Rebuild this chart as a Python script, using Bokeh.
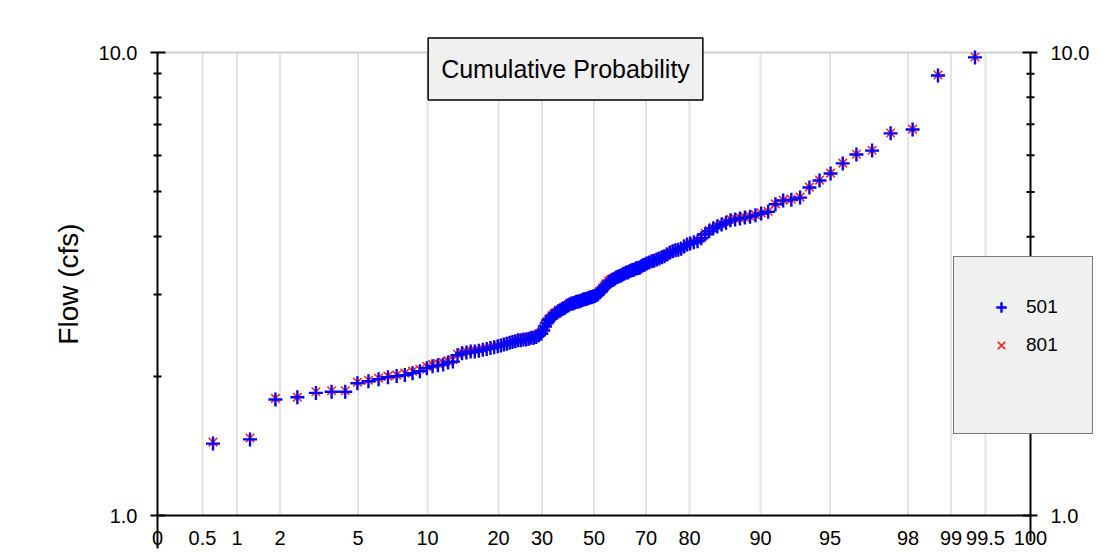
from statistics import NormalDist

import numpy as np
from bokeh.core.properties import value
from bokeh.embed import file_html
from bokeh.models import (ColumnDataSource, FixedTicker, Label, Legend, LegendItem,
                          PrintfTickFormatter, Range1d)
from bokeh.plotting import figure
from bokeh.resources import INLINE

# ---------------- data ----------------
# Probability-axis tick values and their labels
PROB_TICKS = [0, 0.5, 1, 2, 5, 10, 20, 30, 50, 70, 80, 90, 95, 98, 99, 99.5, 100]
PROB_LABELS = ["0", "0.5", "1", "2", "5", "10", "20", "30", "50", "70", "80", "90",
               "95", "98", "99", "99.5", "100"]

# Flow axis ticks
Y_MAJOR = [1, 10]
Y_MINOR = [2, 3, 4, 5, 6, 7, 8, 9]

# Flow (cfs), ranked ascending, series 501
FLOW_501 = [
    1.43, 1.46, 1.78, 1.80, 1.84, 1.85, 1.85, 1.93, 1.95, 1.97,
    1.99, 2.00, 2.01, 2.03, 2.05, 2.08, 2.10, 2.11, 2.12, 2.14,
    2.15, 2.22, 2.24, 2.25, 2.26, 2.26, 2.27, 2.28, 2.29, 2.30,
    2.31, 2.32, 2.33, 2.34, 2.35, 2.36, 2.37, 2.38, 2.39, 2.39,
    2.40, 2.40, 2.41, 2.42, 2.42, 2.43, 2.45, 2.47, 2.51, 2.56,
    2.60, 2.64, 2.66, 2.69, 2.70, 2.73, 2.74, 2.76, 2.77, 2.79,
    2.80, 2.81, 2.83, 2.84, 2.86, 2.87, 2.87, 2.88, 2.89, 2.90,
    2.90, 2.91, 2.92, 2.93, 2.93, 2.94, 2.95, 2.96, 2.96, 2.97,
    2.98, 2.99, 3.00, 3.03, 3.05, 3.08, 3.11, 3.14, 3.15, 3.19,
    3.20, 3.22, 3.23, 3.25, 3.27, 3.28, 3.29, 3.30, 3.32, 3.33,
    3.35, 3.35, 3.37, 3.38, 3.39, 3.40, 3.42, 3.42, 3.43, 3.45,
    3.47, 3.48, 3.50, 3.52, 3.54, 3.55, 3.57, 3.59, 3.61, 3.63,
    3.66, 3.70, 3.72, 3.74, 3.75, 3.77, 3.81, 3.85, 3.87, 3.89,
    3.91, 3.97, 4.05, 4.11, 4.17, 4.21, 4.25, 4.29, 4.34, 4.36,
    4.38, 4.40, 4.42, 4.45, 4.49, 4.53, 4.70, 4.79, 4.81, 4.86,
    5.11, 5.29, 5.48, 5.76, 6.02, 6.14, 6.69, 6.82, 8.92, 9.76,
]

# Flow (cfs), ranked ascending, series 801
FLOW_801 = [
    1.44, 1.47, 1.79, 1.80, 1.85, 1.86, 1.86, 1.94, 1.96, 1.98,
    2.00, 2.01, 2.03, 2.05, 2.07, 2.10, 2.12, 2.13, 2.14, 2.16,
    2.17, 2.23, 2.25, 2.26, 2.27, 2.27, 2.28, 2.29, 2.30, 2.31,
    2.32, 2.33, 2.34, 2.35, 2.36, 2.37, 2.38, 2.39, 2.40, 2.40,
    2.41, 2.41, 2.42, 2.43, 2.43, 2.45, 2.47, 2.49, 2.53, 2.58,
    2.62, 2.65, 2.67, 2.70, 2.72, 2.74, 2.75, 2.77, 2.78, 2.80,
    2.81, 2.82, 2.84, 2.85, 2.87, 2.88, 2.88, 2.89, 2.90, 2.91,
    2.91, 2.92, 2.93, 2.94, 2.94, 2.95, 2.96, 2.97, 2.97, 2.98,
    2.99, 3.00, 3.02, 3.05, 3.07, 3.10, 3.13, 3.16, 3.17, 3.21,
    3.22, 3.24, 3.25, 3.27, 3.28, 3.29, 3.30, 3.31, 3.33, 3.34,
    3.36, 3.36, 3.38, 3.39, 3.40, 3.41, 3.43, 3.43, 3.44, 3.46,
    3.48, 3.49, 3.51, 3.53, 3.55, 3.56, 3.58, 3.60, 3.62, 3.64,
    3.67, 3.71, 3.73, 3.75, 3.76, 3.78, 3.82, 3.86, 3.88, 3.90,
    3.92, 3.99, 4.07, 4.13, 4.19, 4.23, 4.27, 4.31, 4.36, 4.38,
    4.39, 4.41, 4.43, 4.46, 4.50, 4.54, 4.71, 4.80, 4.82, 4.87,
    5.12, 5.30, 5.49, 5.77, 6.03, 6.15, 6.70, 6.83, 8.94, 9.78,
]

# ---------------- probability-paper scale definition ----------------
# axis units (1 unit = 1 px) of every probability tick
AXIS_POS = [0, 45, 79.5, 122.5, 200.5, 270, 341, 384.5, 436.5,
            488.5, 532, 603, 672.5, 750.5, 793.5, 828, 873]
_nd = NormalDist()
_inner_z = [_nd.inv_cdf(t / 100.0) for t in PROB_TICKS[1:-1]]
_inner_u = AXIS_POS[1:-1]


def prob_to_axis(pct):
    z = np.array([_nd.inv_cdf(v / 100.0) for v in pct])
    return np.interp(z, _inner_z, _inner_u)


def plotting_position(values):
    n = len(values)
    return [100.0 * (i + 1) / (n + 1) for i in range(n)]


src501 = ColumnDataSource(dict(x=prob_to_axis(plotting_position(FLOW_501)), y=FLOW_501))
src801 = ColumnDataSource(dict(x=prob_to_axis(plotting_position(FLOW_801)), y=FLOW_801))

# ---------------- layout / style ----------------
FONT = "Liberation Sans"
WIDTH, HEIGHT = 1100, 554
TOP = 11                 # frame top (frame covers the rest of the canvas)
LEFT_AXIS_PX = 157       # the 0 % edge sits this far from the left of the canvas
DECADE_PX = 463          # pixels per decade of flow
BASE_UP_PX = 39          # the 1.0 line sits this far above the canvas bottom
FRAME_H = HEIGHT - TOP
TICK_IN, TICK_OUT, MINOR_TICK = 8, 7, 4
GRID_COLOR = "#e3e3e3"


def px_to_decades(px):
    return 10 ** (px / DECADE_PX)


p = figure(width=WIDTH, height=HEIGHT, output_backend="svg", toolbar_location=None,
           x_range=Range1d(-LEFT_AXIS_PX, WIDTH - LEFT_AXIS_PX),
           y_range=Range1d(Y_MAJOR[0] / px_to_decades(BASE_UP_PX),
                           Y_MAJOR[0] * px_to_decades(FRAME_H - BASE_UP_PX)),
           y_axis_type="log",
           min_border_left=0, min_border_right=0,
           min_border_top=TOP, min_border_bottom=0)
p.outline_line_color = None
p.background_fill_color = "white"
p.border_fill_color = "white"
p.xgrid.visible = False
p.ygrid.visible = False

# bottom probability axis, drawn on the flow = 1 line
xa = p.xaxis[0]
xa.fixed_location = Y_MAJOR[0]
xa.ticker = FixedTicker(ticks=AXIS_POS, minor_ticks=[])
xa.bounds = (AXIS_POS[0], AXIS_POS[-1])
xa.major_label_overrides = {float(u): lab for u, lab in zip(AXIS_POS, PROB_LABELS)}
xa.major_tick_in = 0
xa.major_tick_out = 0
xa.minor_tick_in = 0
xa.minor_tick_out = 0
xa.axis_line_width = 2
xa.axis_line_color = "black"
xa.major_label_text_font = FONT
xa.major_label_text_font_size = "20px"
xa.major_label_text_color = "black"
xa.major_label_standoff = 15

# left flow axis, drawn on the 0 % edge
ya = p.yaxis[0]
ya.fixed_location = AXIS_POS[0]
ya.ticker = FixedTicker(ticks=Y_MAJOR, minor_ticks=Y_MINOR)
ya.bounds = (Y_MAJOR[0], Y_MAJOR[-1])
ya.formatter = PrintfTickFormatter(format="%.1f")
ya.axis_line_width = 2
ya.axis_line_color = "black"
ya.major_tick_in = TICK_IN
ya.major_tick_out = TICK_OUT
ya.major_tick_line_width = 2
ya.major_tick_line_color = "black"
ya.minor_tick_in = MINOR_TICK
ya.minor_tick_out = MINOR_TICK
ya.minor_tick_line_width = 2
ya.minor_tick_line_color = "black"
ya.major_label_text_font = FONT
ya.major_label_text_font_size = "20px"
ya.major_label_text_color = "black"
ya.major_label_standoff = 13
ya.axis_label = "Flow (cfs)"
ya.axis_label_text_font = FONT
ya.axis_label_text_font_size = "28px"
ya.axis_label_text_font_style = "normal"
ya.axis_label_text_color = "black"
ya.axis_label_standoff = 12

# vertical grid lines at the inner probability ticks, and the top line at 10
inner = AXIS_POS[1:-1]
p.segment(x0=inner, y0=[Y_MAJOR[0]] * len(inner), x1=inner, y1=[Y_MAJOR[-1]] * len(inner),
          line_color=GRID_COLOR, line_width=2, level="underlay")
p.segment(x0=[AXIS_POS[0]], y0=[Y_MAJOR[-1]], x1=[AXIS_POS[-1]], y1=[Y_MAJOR[-1]],
          line_color="#cfcfcf", line_width=2, level="underlay")

# vertical edge lines running down through the 0 and 100 labels
p.segment(x0=[AXIS_POS[0], AXIS_POS[-1]], y0=[Y_MAJOR[0]] * 2,
          x1=[AXIS_POS[0], AXIS_POS[-1]],
          y1=[Y_MAJOR[0] / px_to_decades(33), Y_MAJOR[0] / px_to_decades(26)],
          line_color="black", line_width=2)

# right flow axis (drawn at the 100 % edge)
xr = AXIS_POS[-1]
p.segment(x0=[xr], y0=[Y_MAJOR[0]], x1=[xr], y1=[Y_MAJOR[-1]],
          line_color="black", line_width=2)
p.segment(x0=[xr - TICK_IN] * len(Y_MAJOR), y0=Y_MAJOR,
          x1=[xr + TICK_OUT] * len(Y_MAJOR), y1=Y_MAJOR,
          line_color="black", line_width=2)
p.segment(x0=[xr - MINOR_TICK] * len(Y_MINOR), y0=Y_MINOR,
          x1=[xr + MINOR_TICK] * len(Y_MINOR), y1=Y_MINOR,
          line_color="black", line_width=2)
p.text(x=[xr] * len(Y_MAJOR), y=Y_MAJOR, text=[f"{v:.1f}" for v in Y_MAJOR],
       x_offset=TICK_OUT + 13, text_align="left", text_baseline="middle",
       text_font=value(FONT), text_font_size=value("20px"), text_color="black")

# data
r801 = p.scatter("x", "y", source=src801, marker="x", size=12,
                 line_color="#ff2020", line_width=1.6)
r501 = p.scatter("x", "y", source=src501, marker="cross", size=14,
                 line_color="#0000ff", line_width=2.4)
r_blank = p.scatter(x=[], y=[], marker="cross", size=1, alpha=0)

legend = Legend(items=[LegendItem(label="501", renderers=[r501]),
                       LegendItem(label="801", renderers=[r801]),
                       LegendItem(label=" ", renderers=[r_blank])],
                location=(LEFT_AXIS_PX + 796, BASE_UP_PX + 81))
legend.background_fill_color = "#f0f0f0"
legend.background_fill_alpha = 1
legend.border_line_color = "black"
legend.border_line_width = 1.5
legend.label_text_font = FONT
legend.label_text_font_size = "19px"
legend.label_text_color = "black"
legend.glyph_width = 26
legend.glyph_height = 32
legend.label_width = 30
legend.label_height = 32
legend.label_standoff = 12
legend.padding = 34
legend.spacing = 6
legend.margin = 0
p.add_layout(legend, "center")

title = Label(x=408, y=9.21, x_units="data", y_units="data",
              text="Cumulative Probability", text_align="center", text_baseline="middle",
              text_font=FONT, text_font_size="25px", text_color="black",
              background_fill_color="#f0f0f0", background_fill_alpha=1,
              border_line_color="black", border_line_width=1.5,
              padding=dict(left=13, right=13, top=17, bottom=17))
p.add_layout(title)

open("out.html", "w").write(file_html(p, INLINE))
